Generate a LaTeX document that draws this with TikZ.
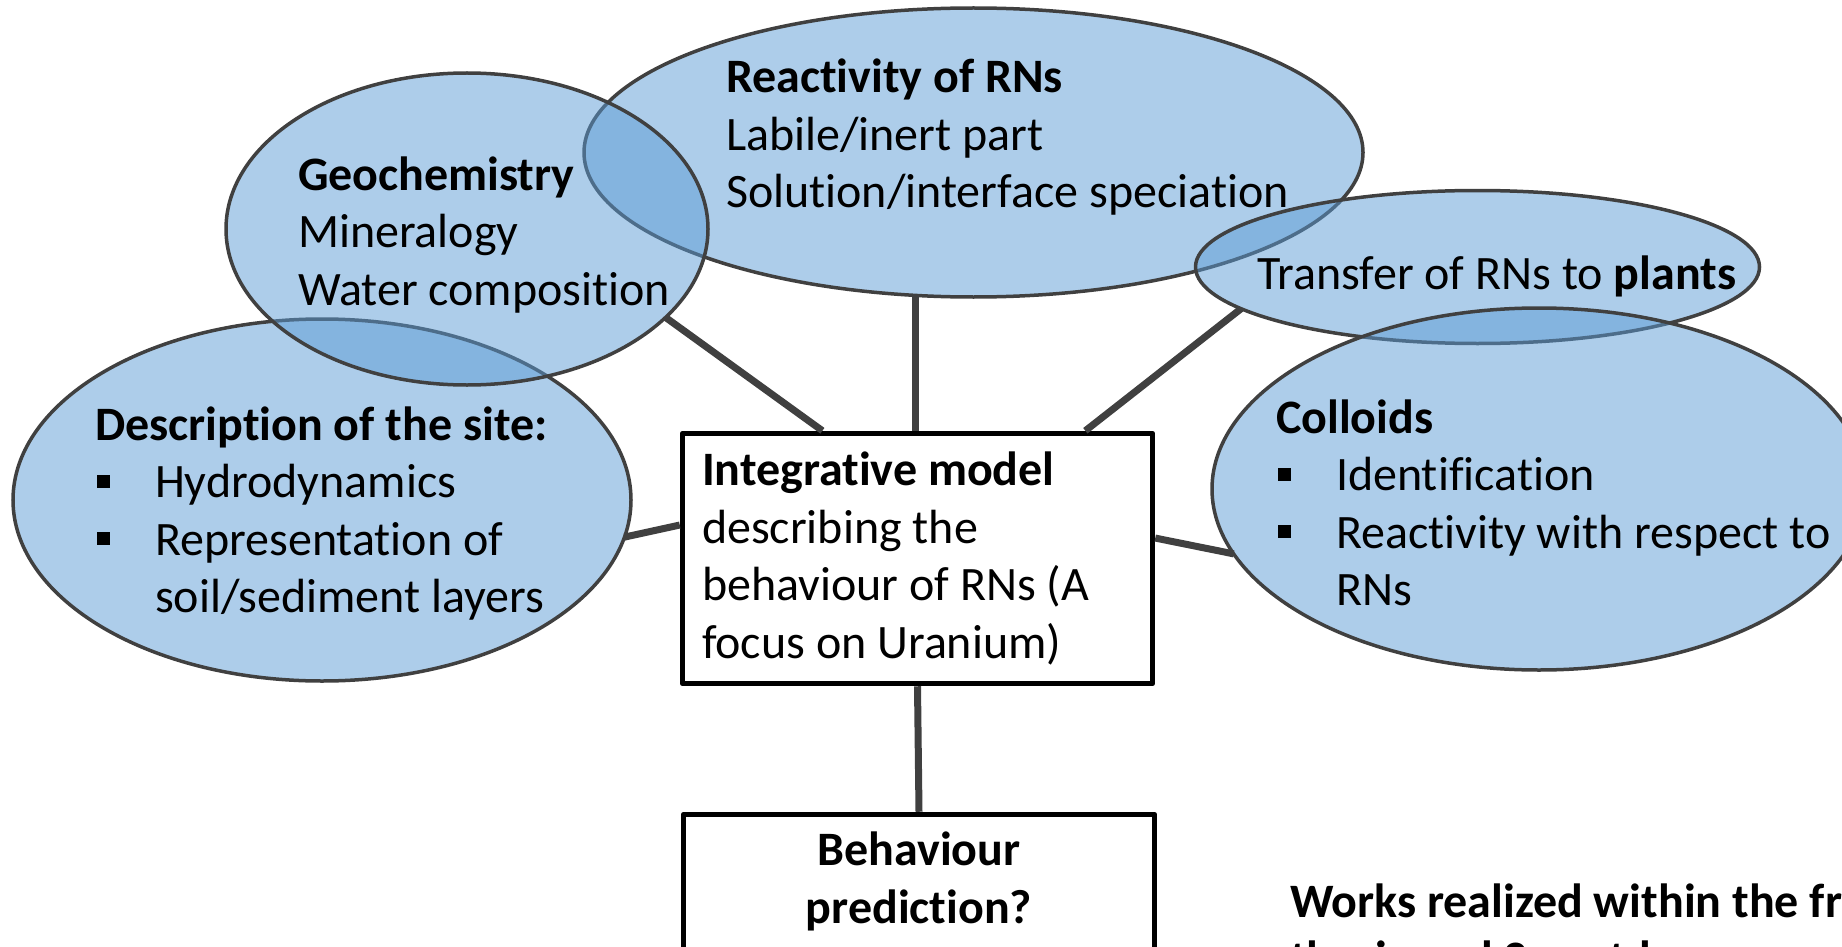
\documentclass[tikz,border=0pt]{standalone}
\usepackage{fontspec}
\setmainfont{Carlito}[Ligatures={NoCommon,NoContextual,NoRequired},Contextuals={NoAlternate}]
\usetikzlibrary{shapes.geometric,calc}
\definecolor{bubblefill}{HTML}{5B9BD5}
\definecolor{edgegray}{HTML}{404040}
% square list bullet followed by the text indent
\newcommand{\bulletsq}{\makebox[60pt][l]{\hspace*{2pt}\rule[10pt]{13pt}{13pt}}}
\newcommand{\bulletgap}{\hspace*{60pt}}
\begin{document}
\begin{tikzpicture}[x=1pt,y=-1pt,
  bubble/.style={ellipse, draw=edgegray, line width=3.5pt, fill=bubblefill,
    fill opacity=0.5, inner sep=0pt, outer sep=0pt},
  boxnode/.style={rectangle, draw=black, line width=5.5pt, fill=white,
    inner sep=0pt, line join=round},
  link/.style={draw=edgegray, line width=7pt},
  txt/.style={anchor=base west, inner sep=0pt, outer sep=0pt,
    font=\fontsize{48}{57.5}\selectfont, text=black}]

\useasboundingbox (0,0) rectangle (1842,947);
\clip (0,0) rectangle (1842,947);

% topic bubbles, later ones overlapping earlier ones
\node[bubble, minimum width=618pt, minimum height=362pt] (desc)  at (322,500) {};
\node[bubble, minimum width=779pt, minimum height=289pt] (react) at (973.5,152.5) {};
\node[bubble, minimum width=482pt, minimum height=312pt] (geo)   at (467,229) {};
\node[bubble, minimum width=564pt, minimum height=153pt] (plant) at (1477.5,267) {};
\node[bubble, minimum width=654pt, minimum height=362pt] (coll)  at (1539,489) {};

% model and prediction boxes
\node[boxnode, minimum width=470pt, minimum height=250pt] (integ) at (917.5,558.5) {};
\node[boxnode, minimum width=471pt, minimum height=300pt] (behav) at (919,964.5) {};

% connectors
\draw[link] (geo.-24) -- ($(integ.north west)!0.3!(integ.north east)$);
\draw[link] (react.-112) -- (react.-112 |- integ.north);
\draw[link] (plant.-170) -- ($(integ.north west)!0.853!(integ.north east)$);
\draw[link] (desc.-7.6) -- ($(integ.north west)!0.369!(integ.south west)$);
\draw[link] ($(integ.north east)!0.42!(integ.south east)$) -- (coll.-168.7);
\draw[link] (integ.south) -- (behav.north);

% texts
\node[txt] (geotext) at (298,190) {\begin{tabular}[t]{@{}l@{}}
  \textbf{Geochemistry}\\ Mineralogy\\ Water composition\end{tabular}};
\node[txt] (reacttext) at (726,93) {\begin{tabular}[t]{@{}l@{}}
  \textbf{Reactivity of RNs}\\ Labile/inert part\\ Solution/interface speciation\end{tabular}};
\node[txt] (planttext) at (1257,289) {Transfer of RNs to \textbf{plants}};
\node[txt] (colltext) at (1276,433) {\begin{tabular}[t]{@{}l@{}}
  \textbf{Colloids}\\ \bulletsq Identification\\
  \bulletsq Reactivity with respect to\\ \bulletgap RNs\end{tabular}};
\node[txt] (desctext) at (95,440) {\begin{tabular}[t]{@{}l@{}}
  \textbf{Description of the site:}\\ \bulletsq Hydrodynamics\\
  \bulletsq Representation of\\ \bulletgap soil/sediment layers\end{tabular}};
\node[txt] (integtext) at (702,485.5) {\begin{tabular}[t]{@{}l@{}}
  \textbf{Integrative model}\\ describing the\\ behaviour of RNs (A\\ focus on Uranium)\end{tabular}};
\node[txt, anchor=base] (behavtext) at (919,865.6) {\begin{tabular}[t]{@{}c@{}}
  \textbf{Behaviour}\\ \textbf{prediction?}\end{tabular}};
\node[txt] (workstext) at (1290,917) {\begin{tabular}[t]{@{}l@{}}
  \textbf{Works realized within the framework of}\\ \textbf{thesis and 2 postdocs}\end{tabular}};
\end{tikzpicture}
\end{document}
